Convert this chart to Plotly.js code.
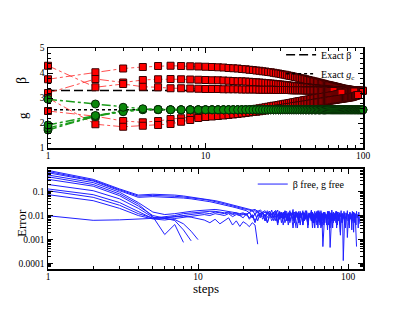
<!DOCTYPE html>
<html><head><meta charset="utf-8">
<script src="https://cdn.plot.ly/plotly-3.0.1.min.js"></script>
<style>html,body{margin:0;padding:0;background:#fff}#chart{width:411px;height:318px}</style>
</head><body><div id="chart"></div>
<script>
// ---------- top panel: estimates of beta and g per step ----------
const exactBeta = 3.3;
const exactG = 2.53;
const exactX = [1, 100];

const betaRunA = [3.75,4.03,4.18,4.24,4.28,4.29,4.28,4.27,4.26,4.25,
4.24,4.23,4.22,4.20,4.19,4.18,4.16,4.15,4.13,4.12,
4.10,4.09,4.07,4.06,4.04,4.03,4.01,3.99,3.98,3.96,
3.94,3.93,3.91,3.89,3.88,3.86,3.84,3.83,3.81,3.79,
3.78,3.76,3.75,3.73,3.72,3.70,3.69,3.67,3.66,3.65,
3.63,3.62,3.61,3.59,3.58,3.57,3.55,3.54,3.53,3.52,
3.51,3.50,3.49,3.48,3.47,3.46,3.45,3.44,3.43,3.42,
3.41,3.40,3.39,3.38,3.37,3.37,3.36,3.35,3.35,3.34,
3.34,3.33,3.33,3.32,3.32,3.32,3.31,3.31,3.31,3.30,
3.30,3.30,3.30,3.30,3.29,3.29,3.29,3.29,3.29,3.29];
const betaRunB = [3.20,3.76,3.62,3.72,3.75,3.76,3.75,3.74,3.73,3.72,
3.71,3.71,3.70,3.69,3.68,3.67,3.67,3.66,3.65,3.64,
3.63,3.62,3.61,3.60,3.59,3.58,3.57,3.56,3.55,3.54,
3.53,3.52,3.51,3.50,3.49,3.48,3.47,3.47,3.46,3.45,
3.44,3.44,3.43,3.42,3.42,3.41,3.40,3.40,3.39,3.38,
3.38,3.37,3.37,3.36,3.36,3.35,3.35,3.34,3.34,3.33,
3.33,3.33,3.32,3.32,3.32,3.31,3.31,3.31,3.30,3.30,
3.30,3.30,3.29,3.29,3.29,3.29,3.28,3.28,3.28,3.28,
3.28,3.27,3.27,3.27,3.27,3.27,3.26,3.26];
const betaRunC = [4.29,3.43,3.56,3.45,3.43,3.39,3.39,3.38,3.37,3.36,
3.36,3.36,3.35,3.35,3.35,3.35,3.34,3.34,3.34,3.34,
3.34,3.33,3.33,3.33,3.33,3.33,3.33,3.32,3.32,3.32,
3.32,3.32,3.32,3.32,3.31,3.31,3.31,3.31,3.31,3.31,
3.31,3.31,3.30,3.30,3.30,3.30,3.30,3.30,3.30,3.30,
3.30,3.30,3.29,3.29,3.29,3.29,3.29,3.29,3.29,3.29,
3.29,3.28,3.28,3.28,3.28];
const betaRunD = [2.48,2.27,2.08,2.03,2.08,2.16,2.19,2.25,2.30,2.33,
2.36,2.38,2.41,2.43,2.45,2.47,2.49,2.51,2.53,2.55,
2.57,2.59,2.61,2.63,2.65,2.67,2.69,2.70,2.72,2.74,
2.75,2.77,2.78,2.80,2.81,2.83,2.84,2.86,2.87,2.88,
2.89,2.91,2.92,2.93,2.94,2.95,2.96,2.97,2.98,2.99,
3.00,3.01,3.02,3.03,3.04,3.04,3.05,3.06,3.07,3.08,
3.08,3.09,3.10,3.10,3.11,3.12,3.13,3.14,3.15,3.16,
3.17,3.19,3.21];
const betaRunE = [3.00,1.95,1.85,1.89,1.92,1.96,2.05,2.12,2.20,2.24,
2.26,2.28,2.30,2.32,2.34,2.36,2.38,2.40,2.42,2.44,
2.45,2.47,2.49,2.50,2.52,2.53,2.55,2.56,2.58,2.59,
2.60,2.62,2.63,2.64,2.65,2.67,2.68,2.69,2.70,2.71,
2.72,2.73,2.74,2.75,2.76,2.77,2.78,2.79,2.80,2.81,
2.82,2.82,2.83,2.84,2.85,2.86,2.86,2.87,2.88,2.89,
2.89,2.90,2.91,2.91,2.92,2.93,2.93,2.94,2.95,2.95,
2.96,2.96,2.97,2.98,2.98,2.99,2.99,3.00,3.00,3.01,
3.02,3.02,3.03,3.03,3.04,3.05,3.06,3.07,3.08,3.09,
3.10,3.11,3.12];

const gRunA = [1.72,2.28,2.50,2.55,2.54,2.53,2.53,2.53,2.53,2.53,
2.53,2.53,2.53,2.53,2.53,2.53,2.53,2.53,2.53,2.53,
2.53,2.53,2.53,2.53,2.53,2.53,2.53,2.53,2.53,2.53,
2.53,2.53,2.53,2.53,2.53,2.53,2.53,2.53,2.53,2.53,
2.53,2.53,2.53,2.53,2.53,2.53,2.53,2.53,2.53,2.53,
2.53,2.53,2.53,2.53,2.53,2.53,2.53,2.53,2.53,2.53,
2.53,2.53,2.53,2.53,2.53,2.53,2.53,2.53,2.53,2.53,
2.53,2.53,2.53,2.53,2.53,2.53,2.53,2.53,2.53,2.53,
2.53,2.53,2.53,2.53,2.53,2.53,2.53,2.53,2.53,2.53,
2.53,2.53,2.53,2.53,2.53,2.53,2.53,2.53,2.53,2.53];
const gRunB = [1.80,2.26,2.48,2.54,2.53,2.53,2.53,2.53,2.53,2.53,
2.53,2.53,2.53,2.53,2.53,2.53,2.53,2.53,2.53,2.53,
2.53,2.53,2.53,2.53,2.53,2.53,2.53,2.53,2.53,2.53,
2.53,2.53,2.53,2.53,2.53,2.53,2.53,2.53,2.53,2.53,
2.53,2.53,2.53,2.53,2.53,2.53,2.53,2.53,2.53,2.53,
2.53,2.53,2.53,2.53,2.53,2.53,2.53,2.53,2.53,2.53];
const gRunC = [1.92,2.30,2.45,2.53,2.54,2.53,2.53,2.53,2.53,2.53,
2.53,2.53,2.53,2.53,2.53,2.53,2.53,2.53,2.53,2.53,
2.53,2.53,2.53,2.53,2.53,2.53,2.53,2.53,2.53,2.53];
const gRunD = [2.95,2.76,2.63,2.57,2.54,2.53,2.53,2.53,2.53,2.53,
2.53,2.53,2.53,2.53,2.53,2.53,2.53,2.53,2.53,2.53,
2.53,2.53,2.53,2.53,2.53,2.53,2.53,2.53,2.53,2.53,
2.53,2.53,2.53,2.53,2.53,2.53,2.53,2.53,2.53,2.53,
2.53,2.53,2.53,2.53,2.53,2.53,2.53,2.53,2.53,2.53,
2.53,2.53,2.53,2.53,2.53,2.53,2.53,2.53,2.53,2.53,
2.53,2.53,2.53,2.53,2.53,2.53,2.53,2.53,2.53,2.53,
2.53,2.53,2.53,2.53,2.53,2.53,2.53,2.53,2.53,2.53,
2.53,2.53,2.53,2.53,2.53,2.53,2.53,2.53,2.53,2.53,
2.53,2.53,2.53,2.53,2.53,2.53,2.53,2.53,2.53,2.53];

// ---------- bottom panel: error per step ----------
const err1 = [0.78,0.33,0.13,0.072,0.078,0.076,0.072,0.066,0.060,0.055,
0.050,0.046,0.042,0.038,0.034,0.031,0.028,0.026,0.024,0.022,
0.020,0.019,0.017,0.018,0.015,0.017,0.014,0.016,0.012,0.015,
0.011,0.014,0.016,0.010,0.013,0.008,0.014,0.011,0.015,0.007,
0.012,0.009,0.014,0.006,0.011,0.013,0.005,0.012,0.008,0.014,
0.006,0.010,0.013,0.004,0.011,0.008,0.012,0.003,0.009,0.007];
const err2 = [0.70,0.30,0.12,0.065,0.070,0.068,0.064,0.060,0.056,0.051,
0.047,0.043,0.039,0.035,0.031,0.028,0.025,0.023,0.021,0.019,
0.018,0.017,0.015,0.016,0.013,0.015,0.012,0.014,0.011,0.015,
0.010,0.013,0.016,0.009,0.012,0.014,0.008,0.013,0.011,0.006,
0.014,0.010,0.012,0.007,0.015,0.009,0.005,0.013,0.010,0.016,
0.006,0.011,0.014,0.004,0.012,0.009,0.015,0.007,0.011,0.005,
0.013,0.008,0.016,0.006,0.010,0.003,0.012,0.009,0.014,0.005,
0.011,0.007,0.013,0.004,0.009,0.00046,0.008,0.012,0.006,0.010];
const err3 = [0.62,0.28,0.11,0.058,0.062,0.060,0.057,0.054,0.050,0.046,
0.042,0.038,0.034,0.031,0.028,0.025,0.023,0.021,0.019,0.018,
0.016,0.013,0.017,0.011,0.015,0.010,0.014,0.009,0.016,0.012,
0.008,0.014,0.011,0.017,0.007,0.013,0.010,0.015,0.006,0.012,
0.016,0.009,0.013,0.005,0.014,0.011,0.007,0.015,0.010,0.004,
0.013,0.008,0.016,0.006,0.012,0.009,0.014,0.005,0.011,0.015,
0.007,0.012,0.009,0.016,0.004,0.010,0.013,0.006,0.014,0.008,
0.011,0.005,0.015,0.009,0.012,0.003,0.013,0.007,0.010,0.014,
0.006,0.012,0.008,0.015,0.004,0.011,0.007,0.013,0.002,0.010,
0.008,0.012,0.00013,0.005,0.009];
const err4 = [0.50,0.24,0.095,0.035,0.014,0.011,0.012,0.014,0.015,0.016,
0.017,0.018,0.018,0.017,0.016,0.015,0.014,0.013,0.012,0.013,
0.011,0.014,0.008,0.012,0.006,0.013,0.009,0.011,0.005,0.012,
0.008,0.013,0.006,0.010,0.014,0.005,0.011,0.008,0.012,0.004,
0.010,0.013,0.006,0.009,0.003];
const err5 = [0.42,0.20,0.080,0.030,0.009,0.0016,0.0042,0.00075];
const err6 = [0.33,0.17,0.068,0.025,0.010,0.0075,0.0062,0.0025,0.00087];
const err7 = [0.20,0.11,0.050,0.020,0.0085,0.0078,0.0068,0.0045,0.0022,0.00098];
const err8 = [0.13,0.075,0.035,0.015,0.0075,0.0080,0.0090,0.0095,0.0085,0.0075,
0.0065,0.0050,0.0070,0.0045,0.0060,0.0080,0.0040,0.0060,0.0035,0.0055,
0.0045,0.0034,0.0050,0.0040,0.00063];
const err9 = [0.11,0.058,0.027,0.012,0.0078,0.0088,0.010,0.012,0.013,0.014,
0.014,0.015,0.015,0.014,0.013,0.014,0.012,0.013,0.011,0.012,
0.010,0.014,0.008,0.012,0.016,0.009,0.013,0.006,0.014,0.010,
0.017,0.008,0.012,0.005,0.015,0.010,0.007,0.016,0.011,0.006,
0.013,0.009,0.018,0.005,0.012,0.008,0.015,0.004,0.011,0.014,
0.007,0.016,0.010,0.004,0.013,0.009,0.017,0.006,0.012,0.003,
0.011,0.015,0.007,0.013,0.005,0.016,0.009,0.012,0.004,0.014,
0.008,0.011,0.0025,0.015,0.009,0.013,0.006,0.017,0.010,0.005,
0.012,0.008,0.015,0.003,0.011,0.014,0.006,0.013,0.009,0.016,
0.005,0.012,0.008,0.015,0.004,0.010,0.013,0.007,0.016,0.006,
0.011,0.003,0.014,0.008,0.012,0.005,0.015,0.009,0.002,0.013,
0.007,0.012,0.004,0.015,0.008,0.011,0.003,0.014,0.006,0.0045];
const err10 = [0.075,0.042,0.020,0.010,0.0072,0.0065,0.0075,0.0085,0.0095,0.010,
0.011,0.010,0.012,0.011,0.010,0.012,0.009,0.011,0.010,0.008,
0.012,0.007,0.010,0.005,0.011,0.008,0.013,0.006,0.009,0.012,
0.006,0.010,0.014,0.005,0.009,0.012,0.004,0.011,0.007,0.013,
0.005,0.010,0.008,0.014,0.006,0.003,0.012,0.008,0.011,0.005,
0.013,0.007,0.010,0.004,0.012,0.009,0.006,0.014,0.005,0.011,
0.008,0.012,0.003,0.010,0.014,0.006,0.009,0.0005,0.007,0.013,
0.010,0.004,0.012,0.007,0.015,0.005,0.009,0.012,0.003,0.011,
0.007,0.013,0.005,0.010,0.014,0.006,0.011,0.004,0.0015,0.009,
0.012,0.005,0.010,0.007,0.013,0.003,0.009,0.012,0.0012,0.008,
0.011,0.004,0.013,0.007,0.010,0.0025,0.012,0.006,0.014,0.005,
0.010,0.007,0.003,0.0005];
const err11 = [0.0098,0.0063,0.0066,0.0070,0.0075,0.0080,0.0090,0.010,0.011,0.012,
0.013,0.012,0.014,0.013,0.012,0.013,0.011,0.012,0.010,0.011,
0.012,0.008,0.011,0.006,0.010,0.013,0.007,0.011,0.005,0.009,
0.012,0.006,0.010,0.004,0.011,0.008,0.013,0.005,0.009,0.012,
0.006,0.010,0.003,0.011,0.008,0.013,0.005,0.009,0.012,0.004,
0.010,0.007,0.012,0.003,0.009,0.011,0.006,0.013,0.005,0.008,
0.011,0.004,0.009,0.012,0.006,0.010,0.0035,0.008,0.011,0.005];

const betaRuns = [betaRunA, betaRunB, betaRunC, betaRunD, betaRunE];
const gRuns = [gRunA, gRunB, gRunC, gRunD];
const errRuns = [err1, err2, err3, err4, err5, err6, err7, err8, err9, err10, err11];

const stepTicks = [1, 10, 100];
const stepTickText = ['1', '10', '100'];
const betaTicks = [1, 2, 3, 4, 5];
const errTicks = [0.1, 0.01, 0.001, 0.0001];
const errTickText = ['0.1', '0.01', '0.001', '0.0001'];

const legendBeta = 'Exact \u03b2';
const legendG = 'Exact <i>g</i><sub>c</sub>';
const legendErr = '\u03b2 free, g free';

// ---------- build ----------
const stepsOf = arr => arr.map((_, i) => i + 1);
const traces = [];
traces.push({x: exactX, y: [exactBeta, exactBeta], xaxis: 'x', yaxis: 'y', mode: 'lines',
  name: legendBeta, legend: 'legend', line: {color: '#000', width: 1.6, dash: '9px,4px'}});
traces.push({x: exactX, y: [exactG, exactG], xaxis: 'x', yaxis: 'y', mode: 'lines',
  name: legendG, legend: 'legend', line: {color: '#000', width: 1.6, dash: 'dot'}});
betaRuns.forEach(r => traces.push({x: stepsOf(r), y: r, xaxis: 'x', yaxis: 'y', mode: 'lines+markers',
  showlegend: false, cliponaxis: false,
  line: {color: 'rgba(255,60,60,0.9)', width: 1, dash: 'dashdot'},
  marker: {symbol: 'square', size: 7, color: '#ff0000', line: {color: '#3a0000', width: 1}}}));
gRuns.forEach(r => traces.push({x: stepsOf(r), y: r, xaxis: 'x', yaxis: 'y', mode: 'lines+markers',
  showlegend: false, cliponaxis: false,
  line: {color: '#1a9a1a', width: 1.5, dash: 'dashdot'},
  marker: {symbol: 'circle', size: 8, color: '#0b870b', line: {color: '#062806', width: 1}}}));
errRuns.forEach((r, i) => traces.push({x: stepsOf(r), y: r, xaxis: 'x2', yaxis: 'y2', mode: 'lines',
  name: legendErr, legend: 'legend2', showlegend: i === 0,
  line: {color: '#2020ff', width: 1}}));

const axBase = {showline: true, linecolor: '#000', linewidth: 1.5, mirror: 'allticks',
  ticks: 'inside', ticklen: 5, tickwidth: 1, tickcolor: '#000', showgrid: false, zeroline: false,
  tickfont: {size: 9.5, color: '#000'}};

const layout = {
  width: 411, height: 318,
  margin: {l: 48, r: 48, t: 48, b: 49},
  paper_bgcolor: '#fff', plot_bgcolor: '#fff',
  font: {family: '"Liberation Serif", "Times New Roman", serif', size: 10, color: '#000'},
  xaxis: Object.assign({}, axBase, {type: 'log', range: [0, 2], domain: [0, 1], anchor: 'y',
    tickmode: 'array', tickvals: stepTicks, ticktext: stepTickText, ticklabelstandoff: -2,
    minor: {ticks: 'inside', ticklen: 3, dtick: 'D1', tickcolor: '#000', showgrid: false}}),
  yaxis: Object.assign({}, axBase, {range: [1, 5], domain: [0.5475, 1], anchor: 'x',
    tickmode: 'array', tickvals: betaTicks,
    minor: {ticks: 'inside', ticklen: 3, dtick: 0.2, tickcolor: '#000', showgrid: false}}),
  xaxis2: Object.assign({}, axBase, {type: 'log', range: [0, 2.1], domain: [0, 1], anchor: 'y2',
    tickmode: 'array', tickvals: stepTicks, ticktext: stepTickText, ticklabelstandoff: -2,
    minor: {ticks: 'inside', ticklen: 3, dtick: 'D1', tickcolor: '#000', showgrid: false}}),
  yaxis2: Object.assign({}, axBase, {type: 'log', range: [-4.24, -0.05], domain: [0, 0.4525], anchor: 'x2',
    tickmode: 'array', tickvals: errTicks, ticktext: errTickText,
    minor: {ticks: 'inside', ticklen: 3, dtick: 'D1', tickcolor: '#000', showgrid: false}}),
  legend: {x: 0.74, y: 1.035, xanchor: 'left', yanchor: 'top', bgcolor: 'rgba(0,0,0,0)',
    font: {size: 10}, itemwidth: 30, tracegroupgap: 0},
  legend2: {x: 0.65, y: 0.45, xanchor: 'left', yanchor: 'top', bgcolor: 'rgba(0,0,0,0)',
    font: {size: 10}, itemwidth: 30},
  annotations: [
    {text: '\u03b2', xref: 'paper', yref: 'paper', x: -0.0825, y: 0.851, xanchor: 'center', yanchor: 'middle',
      showarrow: false, textangle: -90, font: {size: 14}},
    {text: 'g', xref: 'paper', yref: 'paper', x: -0.0825, y: 0.692, xanchor: 'center', yanchor: 'middle',
      showarrow: false, textangle: -90, font: {size: 13}},
    {text: 'Error', xref: 'paper', yref: 'paper', x: -0.0857, y: 0.208, xanchor: 'center', yanchor: 'middle',
      showarrow: false, textangle: -90, font: {size: 13}},
    {text: 'steps', xref: 'paper', yref: 'paper', x: 0.5, y: -0.088, xanchor: 'center', yanchor: 'middle',
      showarrow: false, font: {size: 13}}
  ],
  showlegend: true
};

Plotly.newPlot('chart', traces, layout, {staticPlot: true, displayModeBar: false});
</script>
</body></html>
